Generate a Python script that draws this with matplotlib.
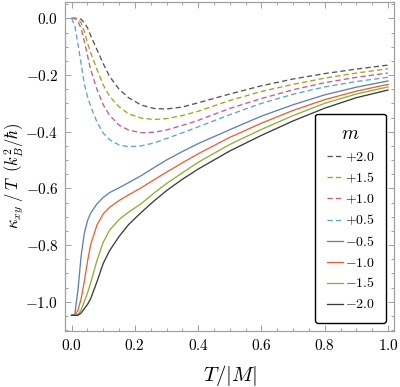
import matplotlib
matplotlib.use("agg")
import matplotlib.pyplot as plt
from matplotlib.ticker import MultipleLocator, FuncFormatter

plt.rcParams["mathtext.fontset"] = "cm"
plt.rcParams["font.family"] = ["DejaVu Serif"]

# temperature grid, T/|M|
T = [0.0, 0.01, 0.02, 0.03, 0.04, 0.05, 0.06, 0.08, 0.10, 0.12, 0.15, 0.18,
     0.22, 0.26, 0.30, 0.35, 0.40, 0.50, 0.60, 0.70, 0.80, 0.90, 1.00]

# kappa_xy / T for each m
k_p20 = [0.0, 0.0, 0.0, -0.003, -0.015, -0.033, -0.06, -0.11, -0.16, -0.205,
         -0.25, -0.28, -0.306, -0.318, -0.320, -0.313, -0.298, -0.267, -0.238,
         -0.214, -0.195, -0.179, -0.165]
k_p15 = [0.0, 0.0, -0.002, -0.015, -0.045, -0.085, -0.12, -0.18, -0.235, -0.275,
         -0.312, -0.337, -0.352, -0.357, -0.354, -0.343, -0.328, -0.290, -0.258,
         -0.233, -0.211, -0.193, -0.178]
k_p10 = [0.0, 0.0, -0.01, -0.035, -0.08, -0.13, -0.18, -0.25, -0.305, -0.342,
         -0.377, -0.394, -0.404, -0.402, -0.394, -0.378, -0.360, -0.318, -0.283,
         -0.252, -0.227, -0.208, -0.193]
k_p05 = [0.0, -0.025, -0.09, -0.16, -0.23, -0.275, -0.31, -0.365, -0.405, -0.428,
         -0.447, -0.453, -0.450, -0.440, -0.424, -0.404, -0.383, -0.340, -0.300,
         -0.268, -0.242, -0.223, -0.208]
k_m05 = [-1.048, -1.045, -0.96, -0.84, -0.76, -0.715, -0.688, -0.655, -0.632,
         -0.615, -0.598, -0.580, -0.555, -0.527, -0.500, -0.470, -0.442, -0.393,
         -0.345, -0.305, -0.270, -0.243, -0.221]
k_m10 = [-1.048, -1.048, -1.03, -0.99, -0.93, -0.86, -0.80, -0.73, -0.69, -0.667,
         -0.643, -0.623, -0.598, -0.570, -0.543, -0.510, -0.478, -0.420, -0.370,
         -0.325, -0.287, -0.257, -0.233]
k_m15 = [-1.048, -1.048, -1.045, -1.03, -1.00, -0.97, -0.935, -0.855, -0.79,
         -0.748, -0.71, -0.684, -0.654, -0.617, -0.583, -0.545, -0.508, -0.445,
         -0.392, -0.343, -0.300, -0.267, -0.242]
k_m20 = [-1.048, -1.048, -1.048, -1.04, -1.025, -1.01, -0.99, -0.93, -0.865,
         -0.82, -0.77, -0.728, -0.685, -0.645, -0.608, -0.568, -0.532, -0.468,
         -0.413, -0.362, -0.317, -0.280, -0.253]

series = [k_p20, k_p15, k_p10, k_p05, k_m05, k_m10, k_m15, k_m20]
labels = [r"$+2.0$", r"$+1.5$", r"$+1.0$", r"$+0.5$",
          r"$-0.5$", r"$-1.0$", r"$-1.5$", r"$-2.0$"]
colors = ["#555555", "#a3a31a", "#c75a8c", "#5ea3d8",
          "#5e81b5", "#eb6235", "#8fb032", "#3c3c3c"]

fig = plt.figure(figsize=(4.0, 3.87), dpi=100)
ax = fig.add_axes([0.163, 0.145, 0.822, 0.8505])

for i, (k, lab, c) in enumerate(zip(series, labels, colors)):
    if i < 4:
        ax.plot(T, k, color=c, lw=0.95, dashes=(4.0, 2.4), label=lab)
    else:
        ax.plot(T, k, color=c, lw=0.95, label=lab)

ax.set_xlim(-0.0202, 1.019)
ax.set_ylim(-1.103, 0.0586)

ax.xaxis.set_major_locator(MultipleLocator(0.2))
ax.xaxis.set_minor_locator(MultipleLocator(0.05))
ax.yaxis.set_major_locator(MultipleLocator(0.2))
ax.yaxis.set_minor_locator(MultipleLocator(0.05))
fmt = FuncFormatter(lambda v, p: r"$%.1f$" % (0.0 if abs(v) < 1e-9 else v))
ax.xaxis.set_major_formatter(fmt)
ax.yaxis.set_major_formatter(fmt)

frame = "#a0a0a0"
for s in ax.spines.values():
    s.set_color(frame)
    s.set_linewidth(0.9)
ax.tick_params(which="both", direction="in", top=True, right=True,
               color=frame, width=0.7, labelsize=11, pad=5)
ax.tick_params(which="major", length=4.5)
ax.tick_params(which="minor", length=2.5)

ax.set_xlabel(r"$T/|M|$", fontsize=15, labelpad=7)
ax.set_ylabel(r"$\kappa_{xy}\;/\;T\;\;(k_B^2/\hbar)$", fontsize=12)
ax.yaxis.set_label_coords(-0.118, 0.47)

leg = ax.legend(title=r"$m$", loc="lower right", fontsize=10,
                title_fontsize=14, handlelength=1.15, handletextpad=0.15,
                labelspacing=0.5, borderpad=0.8, borderaxespad=0.6,
                fancybox=True, framealpha=1)
leg.get_frame().set_edgecolor("black")
leg.get_frame().set_linewidth(1.0)

fig.savefig("out.png", dpi=100)
